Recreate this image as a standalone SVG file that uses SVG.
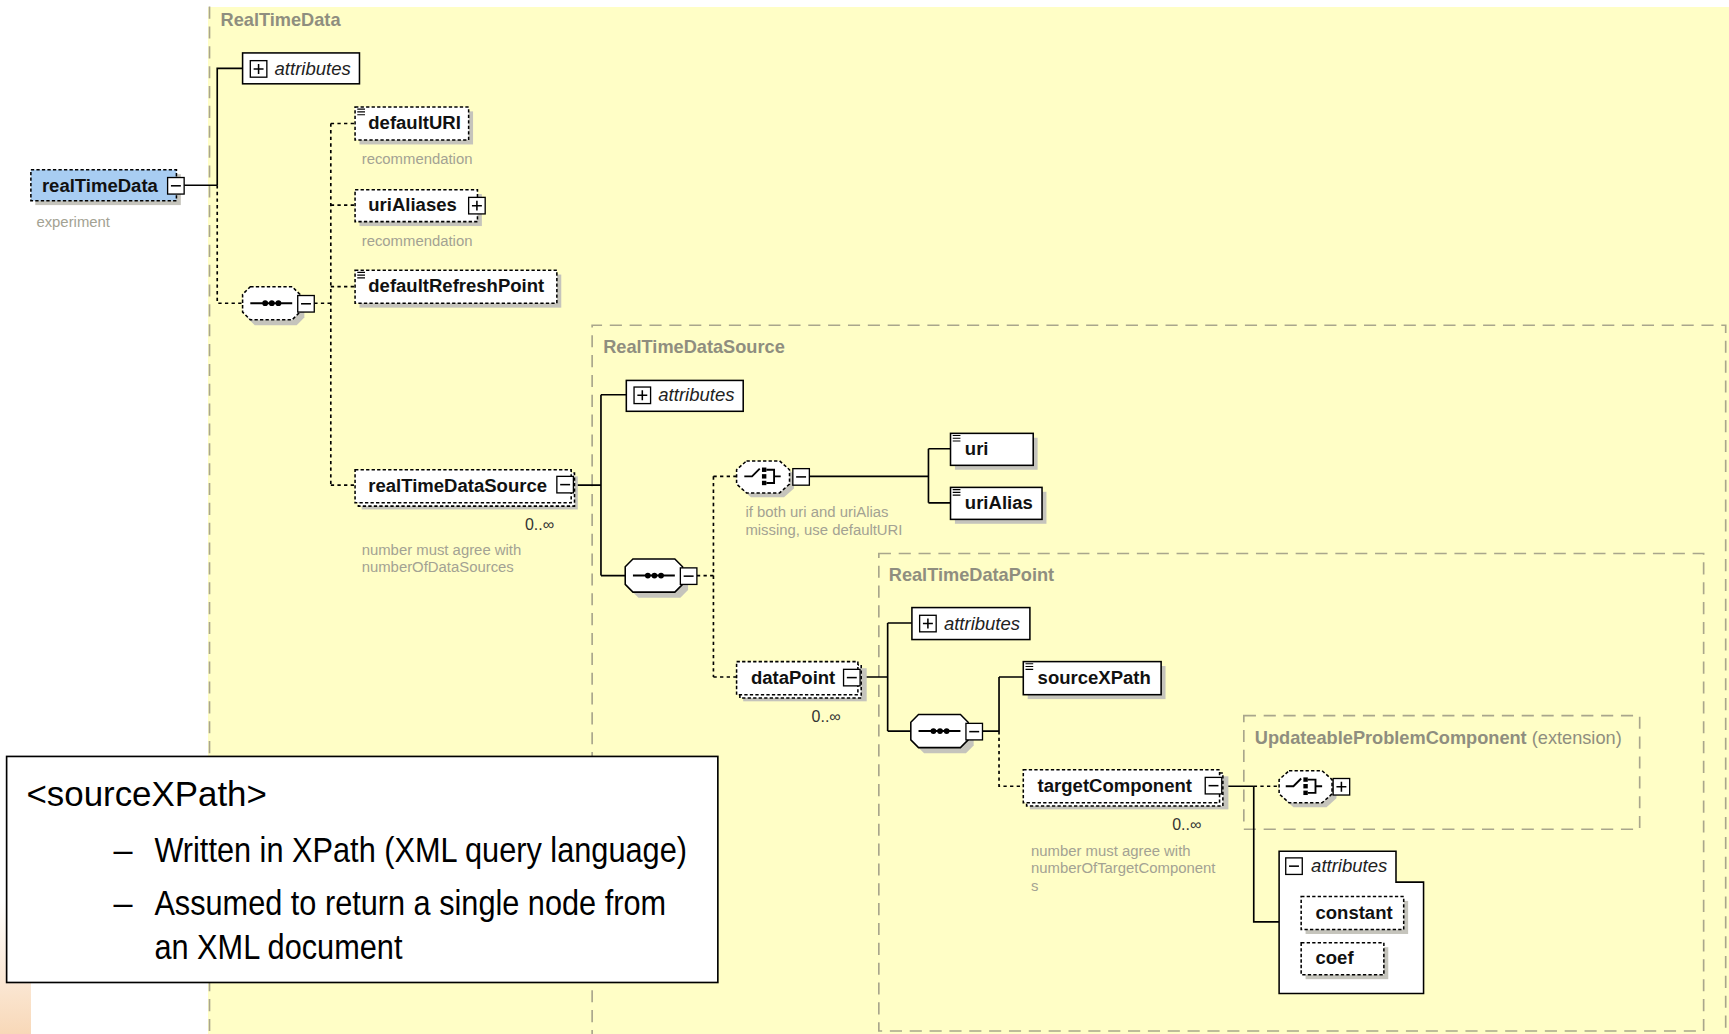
<svg xmlns="http://www.w3.org/2000/svg" width="1729" height="1034" viewBox="0 0 1729 1034">
<defs>
<style>
text{font-family:"Liberation Sans",Arial,sans-serif}
.nm{font-size:16.8px;font-weight:bold;fill:#111}
.at{font-size:16.8px;font-style:italic;fill:#222}
.tl{font-size:16.5px;font-weight:bold;fill:#8f8e7f}
.tx{font-size:16.5px;fill:#8f8e7f}
.nt{font-size:13.5px;fill:#a3a293}
.oc{font-size:14.5px;fill:#333}
.el{fill:#fff;stroke:#000;stroke-width:1.4}
.opt{stroke-dasharray:3 2}
.sh{fill:#c5c4bc;stroke:none}
.wire{fill:none;stroke:#000;stroke-width:1.5}
.dash{stroke-dasharray:3 3}
.ct{fill:none;stroke:#a9a68c;stroke-width:1.5;stroke-dasharray:11 7}
.note{font-size:31px;fill:#000}
</style>
<linearGradient id="peach" x1="0" y1="0" x2="0" y2="1">
<stop offset="0" stop-color="#ffffff"/>
<stop offset="1" stop-color="#f8d8b8"/>
</linearGradient>
<!-- expand / collapse toggles -->
<g id="mn"><rect width="15" height="15" fill="#fff" stroke="#000" stroke-width="1.2"/><path d="M3 7.5H12" stroke="#000" stroke-width="1.4"/></g>
<g id="pl"><rect width="15" height="15" fill="#fff" stroke="#000" stroke-width="1.2"/><path d="M3 7.5H12M7.5 3V12" stroke="#000" stroke-width="1.4"/></g>
<!-- simple-type marker -->
<path id="eq" d="M0 0H7M0 2.5H7M0 5H7" stroke="#000" stroke-width="1"/>
<!-- compositor outlines -->
<polygon id="oct" points="7,0 45,0 52,7 52,23 45,30 7,30 0,23 0,7"/>
<polygon id="och" points="9,0 39,0 48,8 48,21 39,29 9,29 0,21 0,8"/>
<!-- sequence glyph -->
<g id="sq"><path d="M0 0H38" stroke="#000" stroke-width="1.8"/><circle cx="13.5" cy="0" r="2.6"/><circle cx="19.5" cy="0" r="2.6"/><circle cx="25.5" cy="0" r="2.6"/></g>
<!-- choice glyph -->
<g id="chg" fill="none" stroke="#000" stroke-width="1.7">
<path d="M0 0H7L14 -7"/>
<rect x="16" y="-8" width="4" height="4" fill="#000" stroke="none"/>
<rect x="16" y="-2" width="4" height="4" fill="#000" stroke="none"/>
<rect x="16" y="4" width="4" height="4" fill="#000" stroke="none"/>
<path d="M20 -6H27V6H20M27 0H33"/>
</g>
</defs>

<!-- page background -->
<rect width="1729" height="1034" fill="#ffffff"/>
<rect x="0" y="900" width="31" height="134" fill="url(#peach)"/>
<rect x="208" y="7" width="1521" height="1027" fill="#fffec6"/>

<g transform="scale(1.10268)">

<!-- complex type frames -->
<g id="type-frames">
<path class="ct" d="M190 6V940"/>
<text class="tl" x="200" y="24">RealTimeData</text>
<path class="ct" d="M537 945V295H1565V945"/>
<text class="tl" x="547" y="320">RealTimeDataSource</text>
<path class="ct" d="M797 502H1545V935H797Z"/>
<text class="tl" x="806" y="527">RealTimeDataPoint</text>
<rect class="ct" x="1128" y="649" width="359" height="103"/>
<text x="1138" y="675"><tspan class="tl">UpdateableProblemComponent</tspan><tspan class="tx"> (extension)</tspan></text>
</g>

<!-- connectors -->
<g id="connectors">
<path class="wire" d="M167 168H197M197 168V62H220"/>
<path class="wire dash" d="M197 168V275H220"/>
<path class="wire dash" d="M285 275H300M300 112V440M300 112H322M300 186H322M300 260H322M300 440H322"/>
<path class="wire" d="M520 440H545M545 358V522M545 358H568M545 522H568"/>
<path class="wire dash" d="M632 522H647M647 432V614M647 432H668M647 614H668"/>
<path class="wire" d="M733 432H842M842 407V456M842 407H862M842 456H862"/>
<path class="wire" d="M780 614H805M805 565V663M805 565H827M805 663H827"/>
<path class="wire" d="M891 663H906M906 614V663M906 614H928"/>
<path class="wire dash" d="M906 663V713H928"/>
<path class="wire" d="M1108 713H1137M1137 713V836H1160"/>
<path class="wire dash" d="M1137 713H1160"/>
</g>

<!-- root element -->
<g id="node-realTimeData">
<rect class="sh" x="32" y="158" width="132" height="28"/>
<rect x="28" y="154" width="132" height="28" fill="#a8cdf2" stroke="#000" stroke-width="1.4" stroke-dasharray="3 2"/>
<text class="nm" x="38" y="174">realTimeData</text>
<use href="#mn" x="152" y="161"/>
<text class="nt" x="33" y="206">experiment</text>
</g>

<g id="node-attributes-1">
<rect class="el" x="220" y="48" width="106" height="28"/>
<use href="#pl" x="227" y="55"/>
<text class="at" x="249" y="68">attributes</text>
</g>

<g id="node-sequence-1">
<use href="#oct" x="224" y="265" class="sh"/>
<use href="#oct" x="220" y="260" class="el opt"/>
<use href="#sq" x="227" y="275"/>
<use href="#mn" x="270" y="268"/>
</g>

<g id="node-defaultURI">
<rect class="sh" x="326" y="101" width="103" height="30"/>
<rect class="el opt" x="322" y="97" width="103" height="30"/>
<use href="#eq" x="324" y="99"/>
<text class="nm" x="334" y="117">defaultURI</text>
<text class="nt" x="328" y="149">recommendation</text>
</g>

<g id="node-uriAliases">
<rect class="sh" x="326" y="176" width="111" height="29"/>
<rect class="el opt" x="322" y="172" width="111" height="29"/>
<text class="nm" x="334" y="191">uriAliases</text>
<use href="#pl" x="425" y="179"/>
<text class="nt" x="328" y="223">recommendation</text>
</g>

<g id="node-defaultRefreshPoint">
<rect class="sh" x="326" y="249" width="183" height="30"/>
<rect class="el opt" x="322" y="245" width="183" height="30"/>
<use href="#eq" x="324" y="247"/>
<text class="nm" x="334" y="265">defaultRefreshPoint</text>
</g>

<g id="node-realTimeDataSource">
<rect class="sh" x="328" y="432" width="196" height="30"/>
<rect class="el opt" x="325" y="429" width="196" height="30"/>
<rect class="el opt" x="322" y="426" width="196" height="30"/>
<text class="nm" x="334" y="446">realTimeDataSource</text>
<use href="#mn" x="505" y="432"/>
<text class="oc" x="476" y="481">0..∞</text>
<text class="nt" x="328" y="503">number must agree with</text>
<text class="nt" x="328" y="519">numberOfDataSources</text>
</g>

<g id="node-attributes-2">
<rect class="el" x="568" y="345" width="106" height="28"/>
<use href="#pl" x="575" y="351"/>
<text class="at" x="597" y="364">attributes</text>
</g>

<g id="node-sequence-2">
<use href="#oct" x="572" y="512" class="sh"/>
<use href="#oct" x="567" y="507" class="el"/>
<use href="#sq" x="574" y="522"/>
<use href="#mn" x="617" y="515"/>
</g>

<g id="node-choice-1">
<use href="#och" x="672" y="422" class="sh"/>
<use href="#och" x="668" y="418" class="el opt"/>
<use href="#chg" x="675" y="432"/>
<use href="#mn" x="719" y="425"/>
<text class="nt" x="676" y="469">if both uri and uriAlias</text>
<text class="nt" x="676" y="485">missing, use defaultURI</text>
</g>

<g id="node-uri">
<rect class="sh" x="866" y="397" width="75" height="29"/>
<rect class="el" x="862" y="393" width="75" height="29"/>
<use href="#eq" x="864" y="395"/>
<text class="nm" x="875" y="413">uri</text>
</g>

<g id="node-uriAlias">
<rect class="sh" x="866" y="446" width="83" height="29"/>
<rect class="el" x="862" y="442" width="83" height="29"/>
<use href="#eq" x="864" y="444"/>
<text class="nm" x="875" y="462">uriAlias</text>
</g>

<g id="node-dataPoint">
<rect class="sh" x="674" y="606" width="112" height="30"/>
<rect class="el opt" x="671" y="603" width="110" height="30"/>
<rect class="el opt" x="668" y="600" width="110" height="30"/>
<text class="nm" x="681" y="620">dataPoint</text>
<use href="#mn" x="765" y="607"/>
<text class="oc" x="736" y="655">0..∞</text>
</g>

<g id="node-attributes-3">
<rect class="el" x="827" y="551" width="107" height="29"/>
<use href="#pl" x="834" y="558"/>
<text class="at" x="856" y="571">attributes</text>
</g>

<g id="node-sequence-3">
<use href="#oct" x="831" y="653" class="sh"/>
<use href="#oct" x="826" y="648" class="el"/>
<use href="#sq" x="833" y="663"/>
<use href="#mn" x="876" y="656"/>
</g>

<g id="node-sourceXPath">
<rect class="sh" x="932" y="604" width="125" height="30"/>
<rect class="el" x="928" y="600" width="125" height="30"/>
<use href="#eq" x="930" y="602"/>
<text class="nm" x="941" y="620">sourceXPath</text>
</g>

<g id="node-targetComponent">
<rect class="sh" x="934" y="704" width="180" height="30"/>
<rect class="el opt" x="931" y="701" width="178" height="30"/>
<rect class="el opt" x="928" y="698" width="178" height="30"/>
<text class="nm" x="941" y="718">targetComponent</text>
<use href="#mn" x="1093" y="705"/>
<text class="oc" x="1063" y="753">0..∞</text>
<text class="nt" x="935" y="776">number must agree with</text>
<text class="nt" x="935" y="792">numberOfTargetComponent</text>
<text class="nt" x="935" y="808">s</text>
</g>

<g id="node-choice-2">
<use href="#och" x="1164" y="703" class="sh"/>
<use href="#och" x="1160" y="699" class="el opt"/>
<use href="#chg" x="1166" y="713"/>
<use href="#pl" x="1209" y="706"/>
</g>

<g id="node-attributes-4">
<polygon class="el" points="1160,772 1266,772 1266,800 1291,800 1291,901 1160,901"/>
<use href="#mn" x="1166" y="778"/>
<text class="at" x="1189" y="791">attributes</text>
</g>

<g id="node-constant">
<rect class="sh" x="1184" y="817" width="93" height="30"/>
<rect class="el opt" x="1180" y="813" width="93" height="30"/>
<text class="nm" x="1193" y="833">constant</text>
</g>

<g id="node-coef">
<rect class="sh" x="1184" y="859" width="75" height="29"/>
<rect class="el opt" x="1180" y="855" width="75" height="29"/>
<text class="nm" x="1193" y="874">coef</text>
</g>

<!-- callout -->
<g id="callout-sourceXPath">
<rect x="6" y="686" width="645" height="205" fill="#fff" stroke="#000" stroke-width="1.5"/>
<text class="note" x="24" y="731" font-size="33" textLength="218" lengthAdjust="spacingAndGlyphs">&lt;sourceXPath&gt;</text>
<text class="note" x="103" y="782">–</text>
<text class="note" x="140" y="782" textLength="483" lengthAdjust="spacingAndGlyphs">Written in XPath (XML query language)</text>
<text class="note" x="103" y="830">–</text>
<text class="note" x="140" y="830" textLength="464" lengthAdjust="spacingAndGlyphs">Assumed to return a single node from</text>
<text class="note" x="140" y="870" textLength="225" lengthAdjust="spacingAndGlyphs">an XML document</text>
</g>

</g>
</svg>
